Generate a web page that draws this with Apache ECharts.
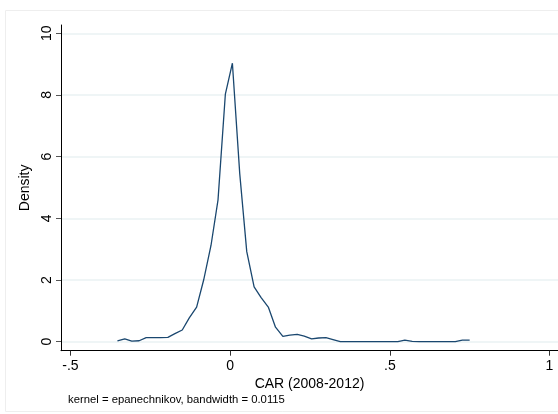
<!DOCTYPE html>
<html>
<head>
<meta charset="utf-8">
<script src="https://cdn.jsdelivr.net/npm/echarts@6/dist/echarts.min.js"></script>
<style>
html,body{margin:0;padding:0;background:#fff;}
#chart{width:558px;height:414px;}
</style>
</head>
<body>
<div id="chart"></div>
<script>
// Kernel density estimate evaluation points (CAR 2008-2012)
var carValues = [-0.353,-0.330,-0.308,-0.285,-0.263,-0.240,-0.218,-0.195,-0.173,-0.150,
  -0.128,-0.105,-0.083,-0.060,-0.038,-0.015,0.007,0.030,0.052,0.075,
  0.097,0.120,0.142,0.165,0.187,0.210,0.232,0.255,0.277,0.300,
  0.322,0.345,0.367,0.390,0.412,0.435,0.457,0.480,0.502,0.525,
  0.547,0.570,0.592,0.615,0.637,0.660,0.682,0.705,0.727,0.750];
var densityValues = [0.03,0.09,0.02,0.03,0.13,0.13,0.13,0.14,0.26,0.38,
  0.77,1.12,2.00,3.12,4.60,8.03,9.03,5.45,2.92,1.78,
  1.43,1.11,0.47,0.17,0.21,0.24,0.18,0.09,0.12,0.13,
  0.07,0.00,0.00,0.00,0.00,0.00,0.00,0.00,0.00,0.00,
  0.05,0.01,0.00,0.00,0.00,0.00,0.00,0.00,0.05,0.05];
var xTickValues = [-0.5, 0, 0.5, 1];
var xTickLabels = ['-.5', '0', '.5', '1'];
var yTickValues = [0, 2, 4, 6, 8, 10];
var yTickLabels = ['0', '2', '4', '6', '8', '10'];
var xTitle = 'CAR (2008-2012)';
var yTitle = 'Density';
var noteText = 'kernel = epanechnikov, bandwidth = 0.0115';

var seriesData = carValues.map(function (x, i) { return [x, densityValues[i]]; });
var font = 'Liberation Sans, Arial, Helvetica, sans-serif';

var chart = echarts.init(document.getElementById('chart'), null, {renderer: 'canvas'});
chart.setOption({
  animation: false,
  backgroundColor: '#ffffff',
  graphic: [{
    type: 'rect',
    shape: {x: 5.5, y: 10.5, width: 600, height: 401},
    style: {fill: 'none', stroke: '#eeeeee', lineWidth: 1},
    silent: true, z: -1
  }],
  title: {
    text: noteText,
    left: 63, top: 389,
    textStyle: {fontFamily: font, fontSize: 11.3, fontWeight: 'normal', color: '#000'}
  },
  grid: {left: 61, right: 0, top: 25, bottom: 63.3, containLabel: false},
  xAxis: {
    type: 'value',
    min: -0.5297, max: 1.0266,
    name: xTitle, nameLocation: 'middle', nameGap: 24,
    nameTextStyle: {fontFamily: font, fontSize: 14, color: '#000'},
    axisLine: {show: true, onZero: false, lineStyle: {color: '#000', width: 1}},
    axisTick: {show: true, length: 5, customValues: xTickValues, lineStyle: {color: '#333'}},
    axisLabel: {
      customValues: xTickValues, margin: 8,
      fontFamily: font, fontSize: 14, color: '#000',
      formatter: function (v) {
        var i = xTickValues.indexOf(v);
        return i >= 0 ? xTickLabels[i] : '';
      }
    },
    splitLine: {show: false}
  },
  yAxis: {
    type: 'value',
    min: -0.292, max: 10.269,
    name: yTitle, nameLocation: 'middle', nameGap: 15,
    nameTextStyle: {fontFamily: font, fontSize: 14, color: '#000'},
    axisLine: {show: true, onZero: false, lineStyle: {color: '#000', width: 1}},
    axisTick: {show: true, length: 5, customValues: yTickValues, lineStyle: {color: '#555'}},
    axisLabel: {
      customValues: yTickValues, margin: 7, rotate: 90,
      fontFamily: font, fontSize: 14, color: '#000',
      formatter: function (v) {
        var i = yTickValues.indexOf(v);
        return i >= 0 ? yTickLabels[i] : '';
      }
    },
    splitLine: {show: true, lineStyle: {color: '#eaf2f3', width: 1.5}}
  },
  series: [{
    type: 'line',
    data: seriesData,
    showSymbol: false,
    symbol: 'none',
    lineStyle: {color: '#1a476f', width: 1.3},
    z: 3
  }]
});
</script>
</body>
</html>
